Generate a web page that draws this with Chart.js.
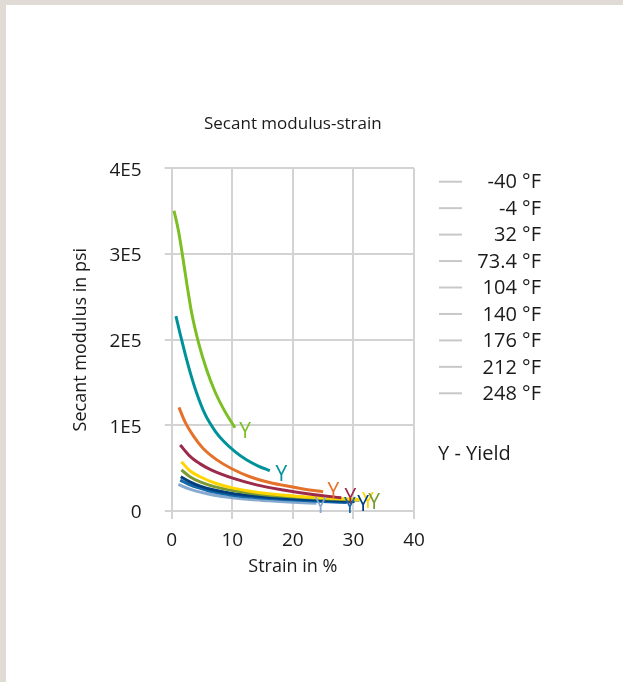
<!DOCTYPE html>
<html><head><meta charset="utf-8">
<script src="https://cdn.jsdelivr.net/npm/chart.js@4"></script>
<style>
html,body{margin:0;padding:0;background:#fff;width:623px;height:682px;overflow:hidden}
#frame{position:absolute;left:0;top:0;width:617px;height:677px;border-left:6px solid #e0dcd5;border-top:5px solid #e0dcd5;background:#fff}
canvas{display:block}
</style></head><body>
<div id="frame"><canvas id="c" width="617" height="677"></canvas></div>
<script>
// ---- data ----
const temperatures = ['-40 °F', '-4 °F', '32 °F', '73.4 °F', '104 °F', '140 °F', '176 °F', '212 °F', '248 °F'];
const seriesColors = ['#7bbf24', '#00929b', '#e5722b', '#9c2a4a', '#ffd500', '#7a9b34', '#003e7e', '#1468a8', '#86a9cf'];

const strainM40 = [0.38, 1.09, 1.75, 2.48, 3.3, 4.39, 5.78, 7.15, 8.8, 10.45];
const modulusM40 = [350400, 328000, 300000, 266000, 231000, 197500, 164500, 139200, 116000, 97200];
const strainM4 = [0.7, 1.4, 2.2, 3.0, 4.1, 5.5, 7.2, 8.5, 10.5, 12.4, 14.3, 16.2];
const modulusM4 = [227500, 206500, 184000, 163000, 138000, 113000, 93000, 82000, 69000, 59500, 52500, 47000];
const strain32 = [1.2, 2.2, 3.6, 5.2, 7.4, 10, 12.9, 15.5, 18.4, 21.5, 25.0];
const modulus32 = [121000, 104000, 87500, 73000, 60000, 49000, 40000, 34500, 30000, 26000, 22500];
const strain73 = [1.4, 3.0, 4.7, 6.5, 10.2, 14, 18.4, 23, 28];
const modulus73 = [77000, 64000, 55000, 48000, 38000, 30500, 24500, 19500, 15500];
const strain104 = [1.6, 3, 4.7, 7, 10, 13, 16, 21, 26, 31];
const modulus104 = [57500, 47000, 40000, 33000, 27000, 23000, 20000, 17000, 15000, 13500];
const strain140 = [1.6, 3, 4.7, 7, 10, 13, 16, 21, 26, 31];
const modulus140 = [48000, 40000, 34000, 28500, 24000, 20800, 18500, 16000, 14000, 12500];
const strain176 = [1.5, 3, 4.7, 7, 10, 13, 16, 21, 26, 30.2];
const modulus176 = [40000, 34000, 29000, 24500, 20500, 18000, 16000, 14000, 12300, 11000];
const strain212 = [1.4, 3, 4.7, 7, 10, 13, 16, 21, 25, 28.9];
const modulus212 = [36000, 30500, 26500, 22000, 18500, 16300, 14500, 12500, 11000, 10000];
const strain248 = [1.1, 3, 4.7, 7, 10, 13, 16, 20, 23.9];
const modulus248 = [31000, 25500, 22000, 18500, 15500, 13300, 12000, 10300, 9000];

const yieldStrain = [12.1, 18.1, 26.7, 29.5, 32.4, 33.4, 31.6, 29.4, 24.6];
const yieldModulus = [92000, 42000, 22500, 15500, 11000, 9000, 7000, 5000, 5000];

const xTicks = [0, 10, 20, 30, 40];
const yTicks = [0, 100000, 200000, 300000, 400000];
const yTickLabels = ['0', '1E5', '2E5', '3E5', '4E5'];

const strains = [strainM40, strainM4, strain32, strain73, strain104, strain140, strain176, strain212, strain248];
const moduli = [modulusM40, modulusM4, modulus32, modulus73, modulus104, modulus140, modulus176, modulus212, modulus248];

// ---- chart ----
const FONT = '"Open Sans", sans-serif';
Chart.defaults.font.family = FONT;
Chart.defaults.color = '#1a1a1a';
const GRID = '#d3d3d3';

const datasets = temperatures.map((t, i) => ({
  label: t,
  data: strains[i].map((s, k) => ({x: s, y: moduli[i][k]})),
  borderColor: seriesColors[i],
  backgroundColor: seriesColors[i],
  borderWidth: 3,
  pointRadius: 0,
  fill: false,
  cubicInterpolationMode: 'monotone'
}));

const yieldPlugin = {
  id: 'yieldMarks',
  afterDatasetsDraw(chart) {
    const {ctx, scales: {x, y}} = chart;
    ctx.save();
    ctx.font = '21px ' + FONT;
    ctx.textAlign = 'center';
    ctx.textBaseline = 'middle';
    yieldStrain.forEach((s, i) => {
      ctx.fillStyle = seriesColors[i];
      ctx.fillText('Y', x.getPixelForValue(s), y.getPixelForValue(yieldModulus[i]));
    });
    ctx.restore();
  }
};

const legendPlugin = {
  id: 'sideLegend',
  afterDraw(chart) {
    const ctx = chart.ctx, a = chart.chartArea;
    ctx.save();
    ctx.font = '20px ' + FONT;
    ctx.textBaseline = 'middle';
    chart.data.datasets.forEach((ds, i) => {
      const yy = a.top + 13.4 + i * 26.45;
      ctx.strokeStyle = '#c8c8c8';
      ctx.lineWidth = 2;
      ctx.beginPath();
      ctx.moveTo(a.right + 25, yy);
      ctx.lineTo(a.right + 48, yy);
      ctx.stroke();
      ctx.fillStyle = '#1a1a1a';
      ctx.textAlign = 'right';
      ctx.fillText(ds.label, a.right + 127, yy + 1);
    });
    ctx.textAlign = 'left';
    ctx.fillText('Y - Yield', a.right + 24, a.top + 285.5);
    ctx.restore();
  }
};

new Chart(document.getElementById('c'), {
  type: 'line',
  data: {datasets},
  plugins: [yieldPlugin, legendPlugin],
  options: {
    responsive: false,
    animation: false,
    layout: {padding: {left: 64.2, right: 209, top: 108.8, bottom: 104.2}},
    plugins: {
      legend: {display: false},
      tooltip: {enabled: false},
      title: {
        display: true,
        text: 'Secant modulus-strain',
        fullSize: false,
        color: '#1a1a1a',
        font: {size: 17, weight: 'normal'},
        padding: {top: 0, bottom: 34.1}
      }
    },
    scales: {
      x: {
        type: 'linear',
        min: 0, max: 40,
        afterBuildTicks(s) { s.ticks = xTicks.map(v => ({value: v})); },
        ticks: {padding: 10, color: '#1a1a1a', font: {size: 19}},
        grid: {color: GRID, lineWidth: 2, tickLength: 8},
        border: {color: GRID, width: 2},
        title: {display: true, text: 'Strain in %', color: '#1a1a1a', font: {size: 18}, padding: {top: 0, bottom: 0}},
        afterFit(s) { s.height = 66.8; }
      },
      y: {
        type: 'linear',
        min: 0, max: 400000,
        afterBuildTicks(s) { s.ticks = yTicks.map(v => ({value: v})); },
        ticks: {
          padding: 23, labelOffset: 2, color: '#1a1a1a', font: {size: 19},
          callback: (v) => yTickLabels[yTicks.indexOf(v)]
        },
        grid: {color: GRID, lineWidth: 2, tickLength: 7},
        border: {color: GRID, width: 2},
        title: {display: true, text: 'Secant modulus in psi', color: '#1a1a1a', font: {size: 18}, padding: {top: 0, bottom: 0}},
        afterFit(s) { s.width = 101.5; }
      }
    }
  }
});
</script>
</body></html>
